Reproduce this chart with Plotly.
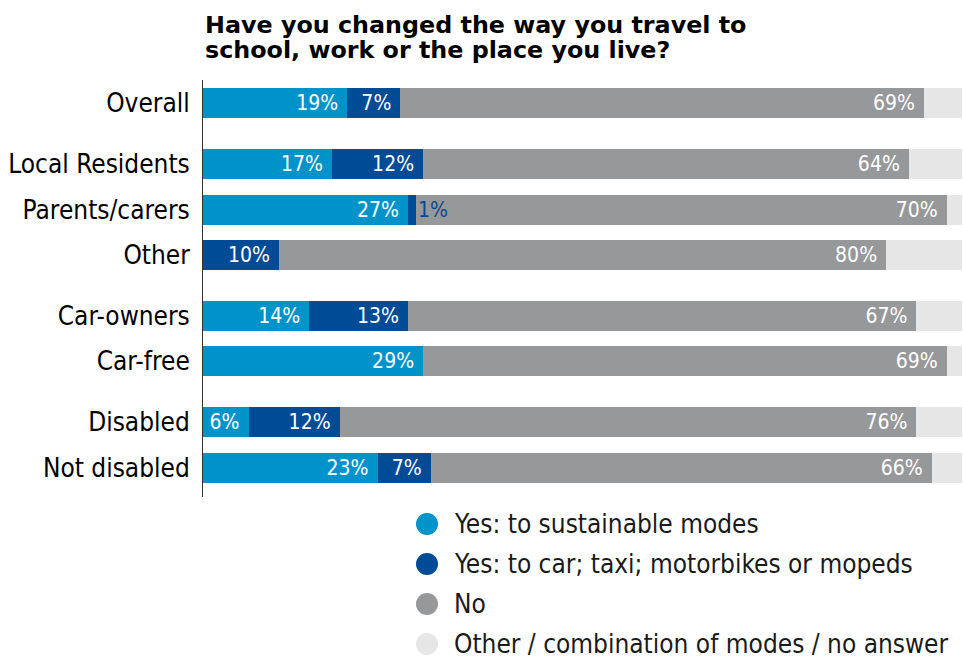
import plotly.graph_objects as go

# Survey rows and their grouping (rows in the same group sit closer together)
categories = ["Overall", "Local Residents", "Parents/carers", "Other",
              "Car-owners", "Car-free", "Disabled", "Not disabled"]
groups = [0, 1, 1, 1, 2, 2, 3, 3]

yes_sustainable = [19, 17, 27, 0, 14, 29, 6, 23]
yes_car = [7, 12, 1, 10, 13, 0, 12, 7]
no_change = [69, 64, 70, 80, 67, 69, 76, 66]
other_answer = [5, 7, 2, 10, 6, 2, 6, 4]

series_names = ["Yes: to sustainable modes",
                "Yes: to car; taxi; motorbikes or mopeds",
                "No",
                "Other / combination of modes / no answer"]
colors = ["#0093C9", "#004B96", "#97989A", "#E6E6E6"]

title_lines = ["Have you changed the way you travel to",
               "school, work or the place you live?"]

FONT = "DejaVu Sans Condensed, Noto Sans, sans-serif"
TITLE_FONT = "DejaVu Sans, sans-serif"
GROUP_GAP = 0.345

# plot area in pixels (used to place title and legend in paper units)
PLOT_L, PLOT_R, PLOT_T, PLOT_B = 203, 962, 80, 497


def px_x(p):
    return (p - PLOT_L) / (PLOT_R - PLOT_L)


def px_y(p):
    return (PLOT_B - p) / (PLOT_B - PLOT_T)


# row positions: one unit per row plus an extra gap between groups
y_pos = [i + GROUP_GAP * g for i, g in enumerate(groups)]


def bar_labels(values, hide=()):
    return ["" if v == 0 or i in hide else f"{v}%\u00a0"
            for i, v in enumerate(values)]


fig = go.Figure()
series = [yes_sustainable, yes_car, no_change, other_answer]
small_car = [i for i, v in enumerate(yes_car) if 0 < v < 3]
for k, (name, vals, col) in enumerate(zip(series_names, series, colors)):
    if k == 3:
        txt = [""] * len(vals)
    elif k == 1:
        txt = bar_labels(vals, hide=small_car)
    else:
        txt = bar_labels(vals)
    fig.add_trace(go.Bar(
        y=y_pos, x=vals, orientation="h", name=name,
        marker=dict(color=col, line=dict(width=0)),
        width=0.66,
        text=txt, textposition="inside", insidetextanchor="end",
        textangle=0, constraintext="none",
        textfont=dict(color="white", size=21, family=FONT),
        hoverinfo="skip", showlegend=False,
    ))

# labels for segments too small to hold their value
for i in small_car:
    fig.add_annotation(
        x=yes_sustainable[i] + yes_car[i], y=y_pos[i], xref="x", yref="y",
        text=f"{yes_car[i]}%", showarrow=False, xanchor="left", xshift=0,
        font=dict(color=colors[1], size=21, family=FONT),
    )

# title, two lines
for j, line in enumerate(title_lines):
    fig.add_annotation(
        x=px_x(203), y=px_y(25 + 25 * j), xref="paper", yref="paper",
        text=f"<b>{line}</b>", showarrow=False, xanchor="left", yanchor="middle",
        font=dict(size=23.8, color="black", family=TITLE_FONT),
    )

# legend: circles and labels
for j, (name, col) in enumerate(zip(series_names, colors)):
    yc = 524 + 40 * j
    fig.add_shape(
        type="circle", xref="paper", yref="paper",
        xsizemode="pixel", ysizemode="pixel",
        xanchor=px_x(427), yanchor=px_y(yc),
        x0=-11, x1=11, y0=-11, y1=11,
        fillcolor=col, line=dict(width=0),
    )
    fig.add_annotation(
        x=px_x(452), y=px_y(yc), xref="paper", yref="paper",
        text=name, showarrow=False, xanchor="left", yanchor="middle",
        font=dict(size=26, color="#1a1a1a", family=FONT),
    )

fig.update_layout(
    barmode="stack",
    width=963, height=661,
    margin=dict(l=PLOT_L, r=963 - PLOT_R, t=PLOT_T, b=661 - PLOT_B),
    paper_bgcolor="white", plot_bgcolor="white",
    font=dict(family=FONT, color="#1a1a1a"),
    showlegend=False,
    xaxis=dict(range=[0, 100], visible=False, fixedrange=True, automargin=False),
    yaxis=dict(
        range=[8.68, -0.51], tickvals=y_pos, ticktext=categories,
        showline=True, linecolor="#333333", linewidth=1,
        ticks="outside", ticklen=7, tickcolor="rgba(0,0,0,0)",
        showgrid=False, zeroline=False, automargin=False, fixedrange=True,
        tickfont=dict(size=26, color="black", family=FONT),
    ),
)

fig.write_html("out.html", config={"displayModeBar": False},
               post_script="document.body.style.margin='0';")
